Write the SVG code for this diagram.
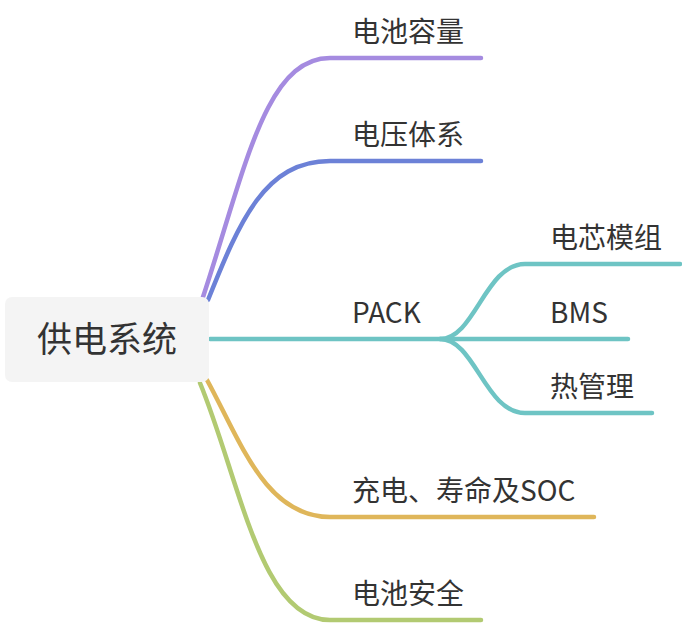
<svg xmlns="http://www.w3.org/2000/svg" width="682" height="624" viewBox="0 0 682 624">
<style>
.t{font-family:"Noto Sans CJK SC","Noto Sans",sans-serif;font-size:28px;fill:#333333;}
.root{font-family:"Noto Sans CJK SC","Noto Sans",sans-serif;font-size:35px;fill:#333333;}
.c{fill:none;stroke-width:4.5;stroke-linecap:round;stroke-linejoin:round;}
</style>
<rect width="682" height="624" fill="#ffffff"/>
<g id="connectors">
<path class="c" stroke="#A58BE0" d="M203 297 C245 170 265 58 330 58 L481 58"/>
<path class="c" stroke="#6C81D7" d="M208 300 C240 220 265 161 330 161 L481 161"/>
<path class="c" stroke="#6EC4C4" d="M210 339 L628 339"/>
<path class="c" stroke="#6EC4C4" d="M440 339 C475 339 485 264 525 264 L680 264"/>
<path class="c" stroke="#6EC4C4" d="M440 339 C475 339 485 413 525 413 L652 413"/>
<path class="c" stroke="#DFB65A" d="M207 380 C240 440 265 517 330 517 L594 517"/>
<path class="c" stroke="#B2CA72" d="M200 383 C240 480 260 620 330 620 L481 620"/>
</g>
<g id="root">
<rect x="5" y="297" width="204" height="85" rx="7" fill="#f4f4f4"/>
<text class="root" x="107" y="352" text-anchor="middle">供电系统</text>
</g>
<g id="n1"><text class="t" x="352" y="42">电池容量</text></g>
<g id="n2"><text class="t" x="352" y="145">电压体系</text></g>
<g id="n3"><text class="t" x="352" y="323">PACK</text></g>
<g id="n31"><text class="t" x="550" y="248">电芯模组</text></g>
<g id="n32"><text class="t" x="550" y="323">BMS</text></g>
<g id="n33"><text class="t" x="550" y="397">热管理</text></g>
<g id="n4"><text class="t" x="352" y="501">充电、寿命及SOC</text></g>
<g id="n5"><text class="t" x="352" y="604">电池安全</text></g>
</svg>
